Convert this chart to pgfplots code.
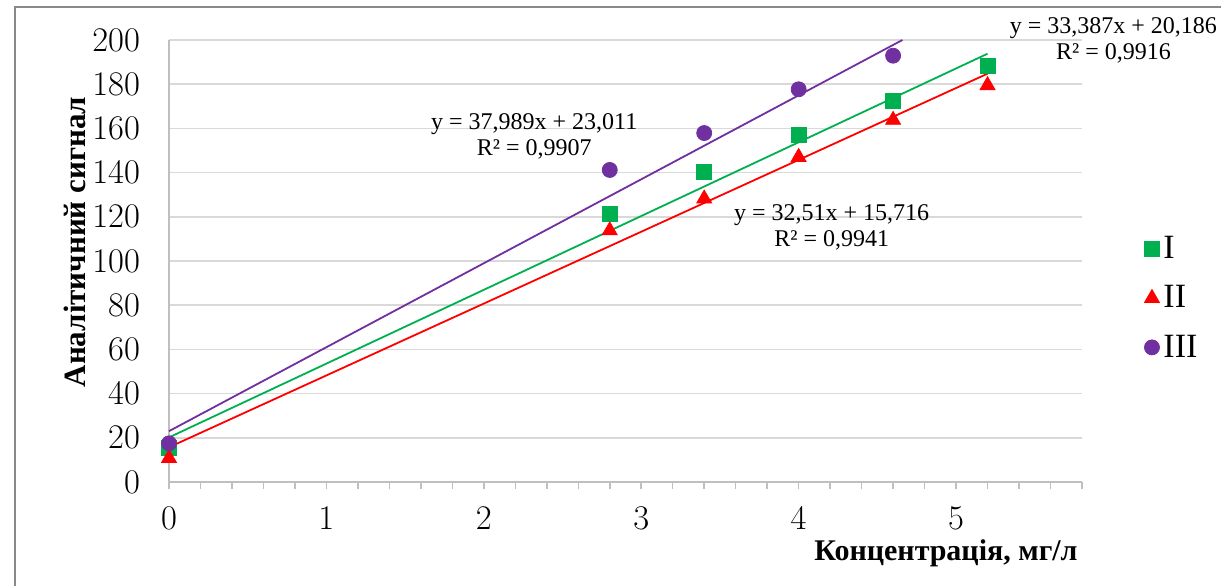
\documentclass[border=0pt]{standalone}
\usepackage{pgfplots}
\pgfplotsset{compat=1.18}
\usepackage{fontspec}
\setmainfont{Liberation Serif}
\definecolor{cI}{HTML}{00B050}
\definecolor{cII}{HTML}{FF0000}
\definecolor{cIII}{HTML}{7030A0}
\definecolor{gridc}{HTML}{D9D9D9}
\definecolor{axc}{HTML}{BFBFBF}
\definecolor{framec}{HTML}{898989}
\begin{document}
\begin{tikzpicture}
\useasboundingbox (-84.5pt,-51.5pt) rectangle (526pt,241pt);
\draw[framec, line width=1pt] (-77pt,-60pt) -- (-77pt,237.5pt) -- (540pt,237.5pt);
\begin{axis}[
  at={(0pt,0pt)}, anchor=south west,
  width=456.5pt, height=221pt, scale only axis,
  xmin=0, xmax=5.8, ymin=0, ymax=200,
  clip=false,
  xtick={0,1,2,3,4,5},
  minor xtick={0.2,0.4,0.6,0.8,1.2,1.4,1.6,1.8,2.2,2.4,2.6,2.8,3.2,3.4,3.6,3.8,4.2,4.4,4.6,4.8,5.2,5.4,5.6,5.8},
  ytick={0,20,...,200},
  ymajorgrids,
  grid style={gridc, line width=0.75pt},
  axis x line*=bottom, axis y line*=left,
  axis line style={axc, line width=0.75pt},
  tick align=outside,
  major tick length=3.5pt, minor tick length=3.5pt,
  xtick style={axc, line width=0.75pt},
  minor x tick style={axc, line width=0.75pt},
  ytick style={draw=none},
  ticklabel style={font=\fontsize{16.5}{19}\selectfont},
  xticklabel style={inner sep=1pt, yshift=-8pt},
  yticklabel style={xshift=-7.5pt},
  xlabel={\textbf{Концентрація, мг/л}},
  every axis x label/.style={at={(axis description cs:0.851,-0.1765)}, anchor=base, inner sep=0pt, font=\fontsize{15}{18}\selectfont},
  ylabel={\textbf{Аналітичний сигнал}},
  every axis y label/.style={at={(axis description cs:-0.103,0.543)}, rotate=90, anchor=center, font=\fontsize{15.5}{18}\selectfont},
  legend style={at={(axis description cs:1.068,0.416)}, anchor=west, draw=none, fill=none,
    font=\fontsize{17}{20}\selectfont, row sep=8pt, inner sep=0pt},
  legend cell align=left,
  legend image code/.code={\draw[#1, only marks] plot coordinates {(0pt,0pt)};},
]
\addplot[only marks, mark=square*, mark size=3.75pt, color=cI] coordinates {
  (0,15.4) (2.8,121.3) (3.4,140.3) (4,157) (4.6,172.4) (5.2,188.4)};
\addplot[only marks, mark=triangle*, mark size=4.3pt, color=cII] coordinates {
  (0,10.8) (2.8,113.8) (3.4,128.2) (4,147) (4.6,163.8) (5.2,179.5)};
\addplot[only marks, mark=*, mark size=3.75pt, color=cIII] coordinates {
  (0,17.5) (2.8,141.2) (3.4,157.9) (4,177.7) (4.6,192.9)};
\legend{I, II, III}
\addplot[forget plot, no marks, cI, line width=0.9pt] coordinates {(0,20.186) (5.2,193.8)};
\addplot[forget plot, no marks, cII, line width=0.9pt] coordinates {(0,15.716) (5.2,184.77)};
\addplot[forget plot, no marks, cIII, line width=0.9pt] coordinates {(0,23.011) (4.659,200)};
\node[align=center, font=\fontsize{12}{13}\selectfont] at (axis cs:2.32,156.5) {y = 37,989x + 23,011\\R² = 0,9907};
\node[align=center, font=\fontsize{12}{13}\selectfont] at (axis cs:4.21,115) {y = 32,51x + 15,716\\R² = 0,9941};
\node[align=center, font=\fontsize{12}{13}\selectfont] at (axis cs:6.0,200) {y = 33,387x + 20,186\\R² = 0,9916};
\end{axis}
\end{tikzpicture}
\end{document}
